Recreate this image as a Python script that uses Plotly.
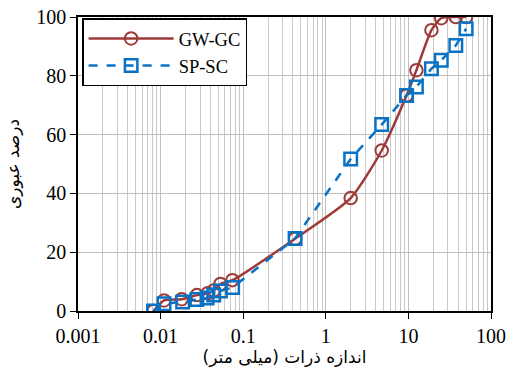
import plotly.graph_objects as go

gw_x = [0.0082, 0.011, 0.018, 0.0275, 0.037, 0.044, 0.053, 0.074, 0.425, 2.0, 4.75, 9.5, 12.5, 19, 25, 37.5, 50]
gw_y = [0, 3.6, 4.0, 5.4, 6.0, 7.0, 9.2, 10.5, 24.6, 38.4, 54.6, 73.3, 81.9, 95.5, 99.6, 100, 100]

sp_x = [0.0082, 0.011, 0.0185, 0.0275, 0.0365, 0.044, 0.053, 0.0745, 0.425, 2.0, 4.75, 9.5, 12.5, 19, 25, 37.5, 50]
sp_y = [0, 2.5, 3.1, 3.9, 4.4, 5.4, 6.8, 8.0, 24.7, 51.7, 63.4, 73.3, 76.2, 82.4, 85.3, 90.3, 96]

x_ticks = [0.001, 0.01, 0.1, 1, 10, 100]
x_labels = ["0.001", "0.01", "0.1", "1", "10", "100"]
y_ticks = [0, 20, 40, 60, 80, 100]

red = "#9E3A38"
blue = "#0A72C4"

fig = go.Figure()
fig.add_trace(go.Scatter(
    x=gw_x, y=gw_y, name="GW-GC", mode="lines+markers",
    line=dict(color=red, width=2.5, shape="spline", smoothing=0.6),
    marker=dict(symbol="circle-open", size=12.5, color=red, line=dict(width=2)),
))
fig.add_trace(go.Scatter(
    x=sp_x, y=sp_y, name="SP-SC", mode="lines+markers",
    line=dict(color=blue, width=2.5, dash="dash"),
    marker=dict(symbol="square-open", size=12.5, color=blue, line=dict(width=2.5)),
))

fig.update_layout(
    width=514, height=374,
    margin=dict(l=78, r=23, t=17, b=63),
    plot_bgcolor="white", paper_bgcolor="white",
    font=dict(family="Liberation Serif", size=20, color="black"),
    legend=dict(
        x=0.01, y=0.995, xanchor="left", yanchor="top",
        bordercolor="black", borderwidth=1.5, bgcolor="white",
        font=dict(family="Liberation Serif", size=18.5),
        itemwidth=85, tracegroupgap=0,
    ),
    xaxis=dict(
        type="log", range=[-3, 2], automargin=False,
        tickvals=x_ticks, ticktext=x_labels,
        showline=True, linecolor="black", linewidth=1.5, mirror=True,
        ticks="outside", ticklen=6, tickcolor="black",
        showgrid=True, gridcolor="#BFBFBF", gridwidth=1,
        minor=dict(dtick="D1", showgrid=True, gridcolor="#C8C8C8", gridwidth=1),
        title=dict(text="اندازه ذرات (میلی متر)", font=dict(family="DejaVu Sans", size=17), standoff=5),
        zeroline=False,
    ),
    yaxis=dict(
        range=[0, 100], tickvals=y_ticks, automargin=False,
        showline=True, linecolor="black", linewidth=1.5, mirror=True,
        ticks="outside", ticklen=6, tickcolor="black",
        showgrid=True, gridcolor="#BFBFBF", gridwidth=1,
        title=dict(text="درصد عبوری", font=dict(family="DejaVu Sans", size=17), standoff=12),
        zeroline=False,
    ),
)

fig.write_html("out.html")
